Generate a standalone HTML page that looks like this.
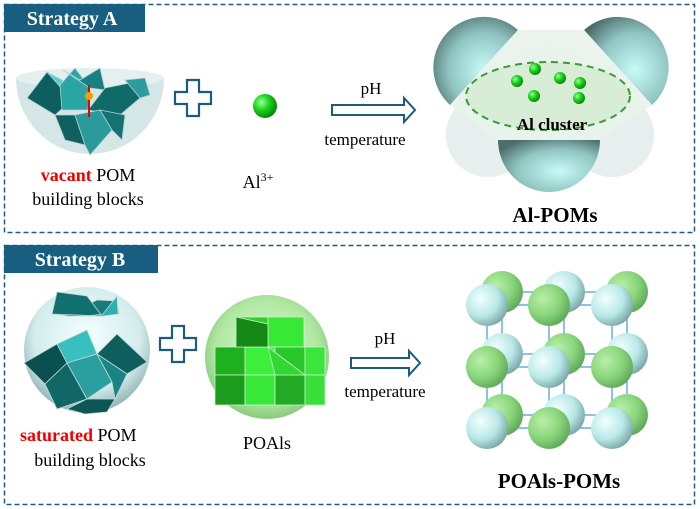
<!DOCTYPE html>
<html><head><style>body{margin:0;background:#fff}svg{display:block}text{font-family:"Liberation Serif",serif}</style></head><body>
<svg width="700" height="509" viewBox="0 0 700 509" xmlns="http://www.w3.org/2000/svg">
<defs>
<radialGradient id="cy" cx="35%" cy="35%" r="70%"><stop offset="0" stop-color="#f2ffff"/><stop offset=".6" stop-color="#b8e8e6"/><stop offset="1" stop-color="#7aa6a8"/></radialGradient>
<radialGradient id="gr" cx="35%" cy="35%" r="70%"><stop offset="0" stop-color="#b8f0a8"/><stop offset=".6" stop-color="#88d47a"/><stop offset="1" stop-color="#5ea858"/></radialGradient>
<radialGradient id="ball" cx="35%" cy="35%" r="65%"><stop offset="0" stop-color="#9dff9d"/><stop offset=".5" stop-color="#1bd41b"/><stop offset="1" stop-color="#0a8a0a"/></radialGradient>
<radialGradient id="hemi" cx="60%" cy="60%" r="70%"><stop offset="0" stop-color="#c8fbf8"/><stop offset=".6" stop-color="#8fc4c0"/><stop offset="1" stop-color="#4d6d6c"/></radialGradient>
<radialGradient id="sph" cx="50%" cy="40%" r="60%"><stop offset="0" stop-color="#f4ffff"/><stop offset=".7" stop-color="#d4ecec"/><stop offset="1" stop-color="#8fb2b3"/></radialGradient>
<radialGradient id="gsph" cx="50%" cy="45%" r="60%"><stop offset="0" stop-color="#e0ffd8"/><stop offset=".7" stop-color="#aee6a0"/><stop offset="1" stop-color="#7ac06e"/></radialGradient>
</defs>
<rect x="4.5" y="4.5" width="690" height="228" fill="none" stroke="#1d5a7c" stroke-width="1.5" stroke-dasharray="5,3"/>
<rect x="4" y="4" width="141" height="28" fill="#175e80"/>
<text x="72" y="25" font-size="20" font-weight="bold" fill="#fff" text-anchor="middle">Strategy A</text>
<rect x="4.5" y="245.5" width="690" height="259" fill="none" stroke="#1d5a7c" stroke-width="1.5" stroke-dasharray="5,3"/>
<rect x="4" y="245" width="154" height="28" fill="#175e80"/>
<text x="80" y="266" font-size="20" font-weight="bold" fill="#fff" text-anchor="middle">Strategy B</text>

<path d="M16,78 A74,76 0 0 0 164,78 Z" fill="#d4e6e6"/>
<ellipse cx="90" cy="78" rx="74" ry="10" fill="#e4f0f0"/>
<g stroke="#b8d0d0" stroke-width="0.8">
<polygon points="27,98 47,72 72,100 55,115" fill="#0d5e5e"/>
<polygon points="47,72 72,100 62,80" fill="#4fd4d4"/>
<polygon points="60,85 75,68 90,88 88,110 62,110" fill="#2aa5a5"/>
<polygon points="63,70 80,80 100,68 105,90 90,88" fill="#188080"/>
<polygon points="88,110 105,88 130,83 140,98 120,115" fill="#106a6a"/>
<polygon points="125,80 145,78 150,95 140,98" fill="#2c9c9c"/>
<polygon points="55,115 75,115 85,145 65,140" fill="#106060"/>
<polygon points="75,115 100,110 112,130 90,155 85,145" fill="#2a9a9a"/>
<polygon points="100,110 125,115 122,140 112,130" fill="#137272"/>
</g>
<line x1="89" y1="85" x2="89" y2="117" stroke="#e00" stroke-width="2"/>
<circle cx="89" cy="96" r="4" fill="#f0a000"/>
<path d="M186,92h12v12h12v12h-12v12h-12v-12h-12v-12h12z" transform="translate(1,-12)" fill="#fff" stroke="#1d5a7c" stroke-width="2.2"/>
<circle cx="265" cy="106" r="12" fill="url(#ball)"/>
<text x="88" y="181" font-size="18" text-anchor="middle"><tspan fill="#e00" font-weight="bold">vacant</tspan> POM</text>
<text x="88" y="205" font-size="18" text-anchor="middle">building blocks</text>
<text x="258" y="188" font-size="18" text-anchor="middle">Al<tspan font-size="12" dy="-7">3+</tspan></text>
<path d="M332,105h72v-7l11,12l-11,12v-7h-72z" fill="#fff" stroke="#1d5a7c" stroke-width="2"/>
<text x="371" y="94" font-size="17" text-anchor="middle">pH</text>
<text x="365" y="145" font-size="17" text-anchor="middle">temperature</text>

<circle cx="548" cy="95" r="50" fill="#e8f0ef"/>
<circle cx="488" cy="135" r="42" fill="#e6eeee"/>
<circle cx="612" cy="135" r="42" fill="#e6eeee"/>
<path d="M450,105 A46,46 0 1 1 518,30 Z" fill="url(#hemi)"/>
<path d="M652,105 A46,46 0 1 0 584,30 Z" fill="url(#hemi)"/>
<path d="M498,140 A51,52 0 0 0 600,140 Z" fill="url(#hemi)"/>
<path d="M450,105 L518,30 L584,30 L652,105 L600,140 L498,140 Z" fill="#e8f3ea" opacity=".9"/>
<ellipse cx="548" cy="96" rx="82" ry="34" fill="#d8edd6" stroke="#3a9a3a" stroke-width="2" stroke-dasharray="7,5"/>
<g fill="url(#ball)"><circle cx="535" cy="69" r="6"/><circle cx="517" cy="81" r="6"/><circle cx="560" cy="78" r="6"/><circle cx="580" cy="83" r="6"/><circle cx="534" cy="96" r="6"/><circle cx="579" cy="98" r="6"/></g>
<text x="552" y="130" font-size="17" font-weight="bold" text-anchor="middle">Al cluster</text>
<text x="555" y="222" font-size="21" font-weight="bold" text-anchor="middle">Al-POMs</text>

<g transform="translate(-3,28)">
<circle cx="90" cy="322" r="63" fill="url(#sph)"/>
<g stroke="#c0d8d8" stroke-width="0.8" transform="translate(0,-14)">
<polygon points="55,300 72,302 90,302 105,302 122,300 120,287 100,286 72,300" fill="#1c7a7a"/>
<polygon points="55,300 60,278 90,282 105,302" fill="#107070"/>
<polygon points="90,302 106,302 121,300 120,282 106,300" fill="#2ab0b0"/>
<polygon points="27,349 60,330 70,349 48,370" fill="#0b5050"/>
<polygon points="60,330 90,316 100,340 70,349" fill="#38c0c0"/>
<polygon points="100,340 120,320 150,348 130,360" fill="#0e5e5e"/>
<polygon points="48,370 70,349 90,385 60,395" fill="#116666"/>
<polygon points="70,349 100,340 115,368 90,385" fill="#2a9f9f"/>
<polygon points="100,340 130,360 118,385 115,368" fill="#1a8484"/>
<polygon points="70,395 90,385 118,385 110,398 88,400" fill="#0d5656"/>
</g></g>
<path d="M168,332h12v12h12v12h-12v12h-12v-12h-12v-12h12z" transform="translate(4,-6)" fill="#fff" stroke="#1d5a7c" stroke-width="2.2"/>
<g transform="translate(5,40)">
<circle cx="262" cy="317" r="62" fill="url(#gsph)"/>
<g stroke="#c8f0c8" stroke-width="0.8" transform="translate(0,-28)">
<rect x="231" y="305" width="32" height="30" fill="#2ed12e"/>
<rect x="263" y="305" width="36" height="30" fill="#37e837"/>
<rect x="210" y="335" width="30" height="28" fill="#1fb01f"/>
<rect x="240" y="335" width="30" height="28" fill="#3cf03c"/>
<rect x="270" y="335" width="30" height="28" fill="#28c828"/>
<rect x="300" y="335" width="20" height="28" fill="#3ae63a"/>
<rect x="210" y="363" width="30" height="30" fill="#1c9c1c"/>
<rect x="240" y="363" width="30" height="30" fill="#38e838"/>
<rect x="270" y="363" width="30" height="30" fill="#22aa22"/>
<rect x="300" y="363" width="20" height="30" fill="#3ae03a"/>
<polygon points="231,305 263,312 263,335 231,335" fill="#168816"/>
<polygon points="263,335 300,363 270,363" fill="#33d633"/>
</g></g>
<text x="20" y="441" font-size="18"><tspan fill="#e00" font-weight="bold">saturated</tspan> POM</text>
<text x="90" y="466" font-size="18" text-anchor="middle">building blocks</text>
<text x="267" y="449" font-size="18" text-anchor="middle">POAls</text>
<path d="M351,358h58v-7l11,12l-11,12v-7h-58z" fill="#fff" stroke="#1d5a7c" stroke-width="2"/>
<text x="385" y="344" font-size="17" text-anchor="middle">pH</text>
<text x="385" y="397" font-size="17" text-anchor="middle">temperature</text>
<g stroke="#6aaee0" stroke-width="1.5" fill="none">
<rect x="487" y="305" width="125" height="123"/>
<rect x="502" y="292" width="125" height="123"/>
<line x1="549" y1="305" x2="549" y2="428"/><line x1="487" y1="367" x2="612" y2="367"/>
<line x1="564" y1="292" x2="564" y2="415"/><line x1="502" y1="354" x2="627" y2="354"/>
</g>
<g>
<circle cx="502" cy="292" r="21" fill="url(#gr)"/><circle cx="564" cy="292" r="21" fill="url(#cy)"/><circle cx="627" cy="292" r="21" fill="url(#gr)"/>
<circle cx="502" cy="354" r="21" fill="url(#cy)"/><circle cx="564" cy="354" r="21" fill="url(#gr)"/><circle cx="627" cy="354" r="21" fill="url(#cy)"/>
<circle cx="502" cy="415" r="21" fill="url(#gr)"/><circle cx="564" cy="415" r="21" fill="url(#cy)"/><circle cx="627" cy="415" r="21" fill="url(#gr)"/>
<circle cx="487" cy="305" r="21" fill="url(#cy)"/><circle cx="549" cy="305" r="21" fill="url(#gr)"/><circle cx="612" cy="305" r="21" fill="url(#cy)"/>
<circle cx="487" cy="367" r="21" fill="url(#gr)"/><circle cx="549" cy="367" r="21" fill="url(#cy)"/><circle cx="612" cy="367" r="21" fill="url(#gr)"/>
<circle cx="487" cy="428" r="21" fill="url(#cy)"/><circle cx="549" cy="428" r="21" fill="url(#gr)"/><circle cx="612" cy="428" r="21" fill="url(#cy)"/>
</g>
<text x="559" y="488" font-size="21" font-weight="bold" text-anchor="middle">POAls-POMs</text>
</svg>
</body></html>
